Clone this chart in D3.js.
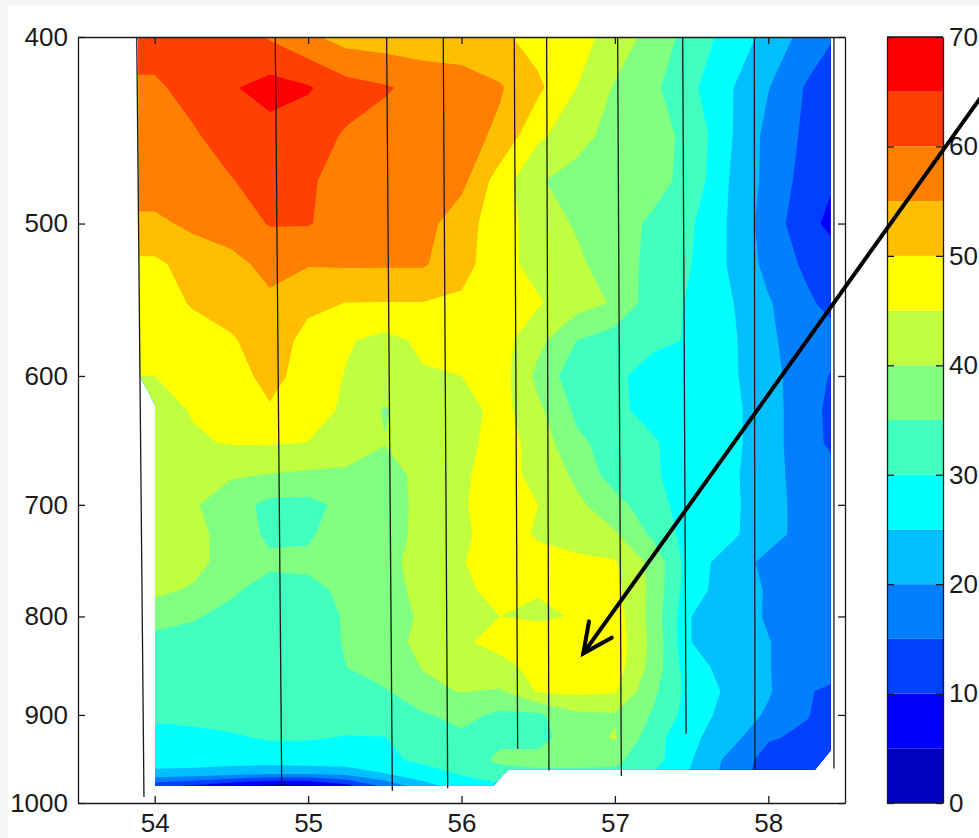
<!DOCTYPE html>
<html>
<head>
<meta charset="utf-8">
<script src="https://cdn.jsdelivr.net/npm/d3@7"></script>
<style>
  body { margin: 0; background: #f5f5f5; }
  svg { display: block; }
</style>
</head>
<body>
<div id="chart"></div>
<script>
// grid: longitude (deg E) columns and pressure (hPa) rows
const lons = [53.75, 54, 54.25, 54.5, 54.75, 55, 55.25, 55.5, 55.75, 56, 56.25, 56.5, 56.75, 57, 57.25, 57.5, 57.75, 58, 58.25, 58.5];
const levels = [400, 425, 450, 475, 500, 525, 550, 575, 600, 625, 650, 675, 700, 725, 750, 775, 800, 825, 850, 875, 900, 925, 950, 965, 980];

// one row of values per pressure level
const p400 = [62, 62, 62, 62.5, 59.5, 56, 53, 52.5, 52, 52, 51, 48, 47, 43, 38, 33, 28, 23.5, 18, 14];
const p425 = [59.3, 59.3, 61.5, 64.5, 67, 65.5, 62, 60.5, 58.5, 57.5, 55.5, 51, 45, 39.5, 36, 31, 25.5, 20.2, 14.5, 11.5];
const p450 = [57, 57, 59.5, 62, 63, 62, 59.5, 58, 57.5, 57, 54, 46, 42, 38, 37, 33.5, 25.5, 18.5, 14, 11];
const p475 = [57.5, 57.5, 58.5, 59.8, 62, 60.5, 58.5, 58, 57.5, 56.5, 47.5, 40.5, 38, 37.5, 37, 33, 24.8, 18.5, 13, 9];
const p500 = [54, 54, 56, 57.5, 60.3, 60.3, 58, 57.5, 57, 52, 47.5, 42.5, 39.5, 37.5, 34, 30.5, 24.5, 17.5, 12, 6.5];
const p525 = [49, 49, 52, 53.5, 56.5, 55.3, 55.5, 55.5, 55.5, 52, 46.5, 43.5, 41, 37.5, 33.5, 30, 24.5, 18.5, 14, 11];
const p550 = [48.5, 48.5, 50.3, 52, 54, 51, 49.9, 49.8, 49.8, 49, 48.5, 45.5, 42, 39.5, 32, 29.5, 25.5, 20.5, 16, 12];
const p575 = [47.5, 47.5, 48.5, 49.5, 52.5, 48.5, 45.5, 43.5, 46, 48, 47, 41.5, 35, 32.5, 31, 29.6, 26, 21, 17, 15.5];
const p600 = [45, 45, 47.5, 48, 51.5, 48, 44.7, 43.5, 44.5, 45, 47.5, 38.5, 32, 31, 28, 27, 26, 21.5, 17.5, 13];
const p625 = [43.5, 43.5, 45.3, 47, 49.5, 47.5, 44, 39.5, 43, 42.5, 47, 41, 34, 31, 28.5, 27.5, 26.5, 22, 17, 12];
const p650 = [43, 43, 44.5, 45.3, 45.4, 44.9, 44, 40.2, 43, 43, 47.5, 43, 36, 33, 30.5, 27.5, 26.5, 22, 17, 12.5];
const p675 = [42.5, 42.5, 41.5, 40.5, 39.9, 39.2, 38.7, 38, 41.5, 44.3, 47, 43.5, 39, 32.5, 30.5, 28, 26, 22, 17.5, 15];
const p700 = [42, 42, 40.5, 37.5, 33.5, 33.5, 36.5, 37.5, 41.5, 44.5, 47.5, 45, 41, 37, 31.5, 28, 26, 22.5, 17.5, 15];
const p725 = [42, 42, 41.5, 38, 34, 34.5, 37, 38.5, 41, 44.2, 47, 44.5, 42, 40.5, 34, 27.5, 26, 22, 18, 16];
const p750 = [42.5, 42.5, 41.5, 38, 36, 35.8, 37, 38.5, 42, 44.7, 47.5, 46.5, 46.5, 45.5, 38.5, 27, 23, 18.5, 17.5, 16.5];
const p775 = [41, 41, 39.5, 35.8, 33, 34, 35.8, 38, 41.5, 44, 46.5, 45.3, 45.8, 46.5, 38.5, 26.5, 23, 19.5, 17, 16.5];
const p800 = [37.5, 37.5, 35.5, 33.5, 32.5, 32.5, 35.5, 38.5, 40.5, 43, 45, 44.3, 45.3, 47.5, 38, 25, 22.5, 19.5, 17, 16];
const p825 = [33, 33, 33, 32.5, 32, 32, 35.5, 38.5, 41, 44.3, 46.5, 48, 48.5, 48, 38.5, 25, 22.5, 20.2, 17.5, 16.5];
const p850 = [32.5, 32.5, 32.5, 32.5, 31, 32, 35, 37.5, 40.2, 42, 43.5, 46.5, 48, 47.5, 38, 26.5, 23.5, 20.2, 17.5, 16.5];
const p875 = [31.5, 31.5, 31.5, 31.5, 31.8, 32.5, 33.5, 34.5, 39, 40.2, 39.5, 45.5, 46, 45.5, 36, 28, 24, 20.5, 15.5, 13];
const p900 = [30.8, 30.8, 31, 31.5, 32, 32, 31.5, 32, 34.5, 36.5, 34, 34, 39, 39.5, 34.5, 27.5, 23, 19.3, 15.3, 12];
const p925 = [28.5, 28.5, 29, 29.5, 30.4, 30.3, 29.8, 29.9, 32, 34, 34, 33.5, 37.5, 40.5, 32, 26, 22, 15.5, 14, 12];
const p950 = [27, 27, 27, 27, 27.5, 28, 28, 29, 31, 32.5, 36, 36.5, 36.5, 36, 32, 25.2, 18.5, 13, 12.5, 12];
const p965 = [24, 24, 23.5, 22.5, 21, 21, 22, 25, 28, 30.5, 33, 34, 34, 34, 30, 24.5, 18, 12.5, 12, 11.5];
const p980 = [11, 11, 9, 5, 2, 2.5, 8, 16, 23, 27.5, 29, 31, 32, 32, 28, 24, 17.5, 12, 11.5, 11];

// outline of the sampled section (lon, hPa)
const edgeLon = [53.891, 53.904, 54.002, 54.002, 56.205, 56.303, 58.305, 58.407, 58.407];
const edgeP   = [400, 600, 621, 980, 980, 961, 961, 939, 400];

// station profiles: lon at top, lon at bottom, bottom pressure
const stationLonTop    = [53.883, 54.786, 55.512, 55.881, 56.344, 56.555, 57.018, 57.442, 57.909, 58.428];
const stationLonBottom = [53.930, 54.828, 55.549, 55.910, 56.366, 56.570, 57.042, 57.464, 57.913, 58.428];
const stationPBottom   = [992.8, 978.8, 985.5, 982.5, 937.3, 962, 968.3, 920.6, 961, 959.6];

const bandEdges = [0, 5, 10, 15, 20, 25, 30, 35, 40, 45, 50, 55, 60, 65, 70];
const jetColors = ["#0000bf", "#0000ff", "#0040ff", "#0080ff", "#00bfff", "#00ffff", "#40ffbf",
                   "#80ff80", "#bfff40", "#ffff00", "#ffbf00", "#ff8000", "#ff4000", "#ff0000"];

const xTicks = [54, 55, 56, 57, 58];
const yTicks = [400, 500, 600, 700, 800, 900, 1000];
const cbTicks = [0, 10, 20, 30, 40, 50, 60, 70];

// annotation arrow (lon, hPa)
const arrowTail = [59.51, 416.4];
const arrowTip = [56.794, 836.1];

const fontFamily = '"Liberation Sans", Arial, Helvetica, sans-serif';

const svg = d3.select("#chart").append("svg")
  .attr("width", 979)
  .attr("height", 838);

svg.append("rect").attr("width", 979).attr("height", 838).attr("fill", "#f5f5f5");
svg.append("rect").attr("x", 8).attr("y", 5).attr("width", 971).attr("height", 833).attr("fill", "#fff");

let x = d3.scaleLinear().domain([53.5, 58.5]).range([78, 845]);
let y = d3.scaleLog().domain([400, 1000]).range([37, 803]);

// grid index -> lon / pressure
let lonAt = d3.scaleLinear().domain(d3.range(lons.length)).range(lons);
let presAt = d3.scaleLinear().domain(d3.range(levels.length)).range(levels);

const grid = [p400, p425, p450, p475, p500, p525, p550, p575, p600, p625, p650, p675, p700,
              p725, p750, p775, p800, p825, p850, p875, p900, p925, p950, p965, p980];
const values = grid.flat();

// contour coords have sample i at i + 0.5
const toScreen = d3.geoTransform({
  point: function(u, v) {
    this.stream.point(x(lonAt(u - 0.5)), y(presAt(v - 0.5)));
  }
});
const path = d3.geoPath(toScreen);

svg.append("clipPath").attr("id", "dataArea")
  .append("path")
  .attr("d", d3.line()(edgeLon.map((d, i) => [x(d), y(edgeP[i])])) + "Z");

const bands = d3.contours()
  .size([lons.length, levels.length])
  .thresholds(bandEdges.slice(0, -1))(values);

svg.append("g")
  .attr("clip-path", "url(#dataArea)")
  .selectAll("path")
  .data(bands)
  .join("path")
    .attr("d", path)
    .attr("fill", d => jetColors[bandEdges.indexOf(d.value)]);

// station lines
svg.append("g")
  .selectAll("line")
  .data(stationLonTop)
  .join("line")
    .attr("x1", d => x(d))
    .attr("y1", y(400))
    .attr("x2", (d, i) => x(stationLonBottom[i]))
    .attr("y2", (d, i) => y(stationPBottom[i]))
    .attr("stroke", "#1a1a1a")
    .attr("stroke-width", 1.3);

// axes, ticks pointing inwards
function styleAxis(g) {
  g.attr("font-family", fontFamily).attr("font-size", 26).attr("color", "#1a1a1a");
  g.selectAll("path, line").attr("stroke-width", 1.3);
}
const fmt = d3.format("d");

svg.append("g").attr("transform", "translate(78,0)")
  .call(d3.axisLeft(y).tickValues(yTicks).tickFormat(fmt).tickSize(-7).tickSizeOuter(0).tickPadding(10))
  .call(styleAxis);
svg.append("g").attr("transform", "translate(845,0)")
  .call(d3.axisRight(y).tickValues(yTicks).tickFormat("").tickSize(-7).tickSizeOuter(0))
  .call(styleAxis);
svg.append("g").attr("transform", "translate(0,803)")
  .call(d3.axisBottom(x).tickValues(xTicks).tickFormat(fmt).tickSize(-7).tickSizeOuter(0).tickPadding(11))
  .call(styleAxis);
svg.append("g").attr("transform", "translate(0,37)")
  .call(d3.axisTop(x).tickValues(xTicks).tickFormat("").tickSize(-7).tickSizeOuter(0))
  .call(styleAxis);

// colour bar
let cb = d3.scaleLinear().domain([0, 70]).range([803, 37]);
svg.append("g")
  .selectAll("rect")
  .data(jetColors)
  .join("rect")
    .attr("x", 887)
    .attr("width", 56)
    .attr("y", (d, i) => cb(bandEdges[i + 1]))
    .attr("height", (d, i) => cb(bandEdges[i]) - cb(bandEdges[i + 1]))
    .attr("fill", d => d);

svg.append("g").attr("transform", "translate(887,0)")
  .call(d3.axisLeft(cb).tickValues(cbTicks).tickFormat("").tickSize(-7).tickSizeOuter(0))
  .call(styleAxis);
svg.append("g").attr("transform", "translate(943,0)")
  .call(d3.axisRight(cb).tickValues(cbTicks).tickFormat(fmt).tickSize(-7).tickSizeOuter(0).tickPadding(6))
  .call(styleAxis);
svg.append("line").attr("x1", 887).attr("x2", 943).attr("y1", cb(70)).attr("y2", cb(70))
  .attr("stroke", "#1a1a1a").attr("stroke-width", 1.3);
svg.append("line").attr("x1", 887).attr("x2", 943).attr("y1", cb(0)).attr("y2", cb(0))
  .attr("stroke", "#1a1a1a").attr("stroke-width", 1.3);

// arrow
const tip = [x(arrowTip[0]), y(arrowTip[1])];
const tail = [x(arrowTail[0]), y(arrowTail[1])];
const ang = Math.atan2(tail[1] - tip[1], tail[0] - tip[0]);
const barb = a => [tip[0] + 32.5 * Math.cos(ang + a), tip[1] + 32.5 * Math.sin(ang + a)];

svg.append("path")
  .attr("d", d3.line()([tail, tip]))
  .attr("stroke", "#000").attr("stroke-width", 4).attr("stroke-linecap", "round").attr("fill", "none");
svg.append("path")
  .attr("d", d3.line()([barb(0.445), tip, barb(-0.445)]))
  .attr("stroke", "#000").attr("stroke-width", 4).attr("stroke-linecap", "round")
  .attr("stroke-linejoin", "miter").attr("fill", "none");
</script>
</body>
</html>
